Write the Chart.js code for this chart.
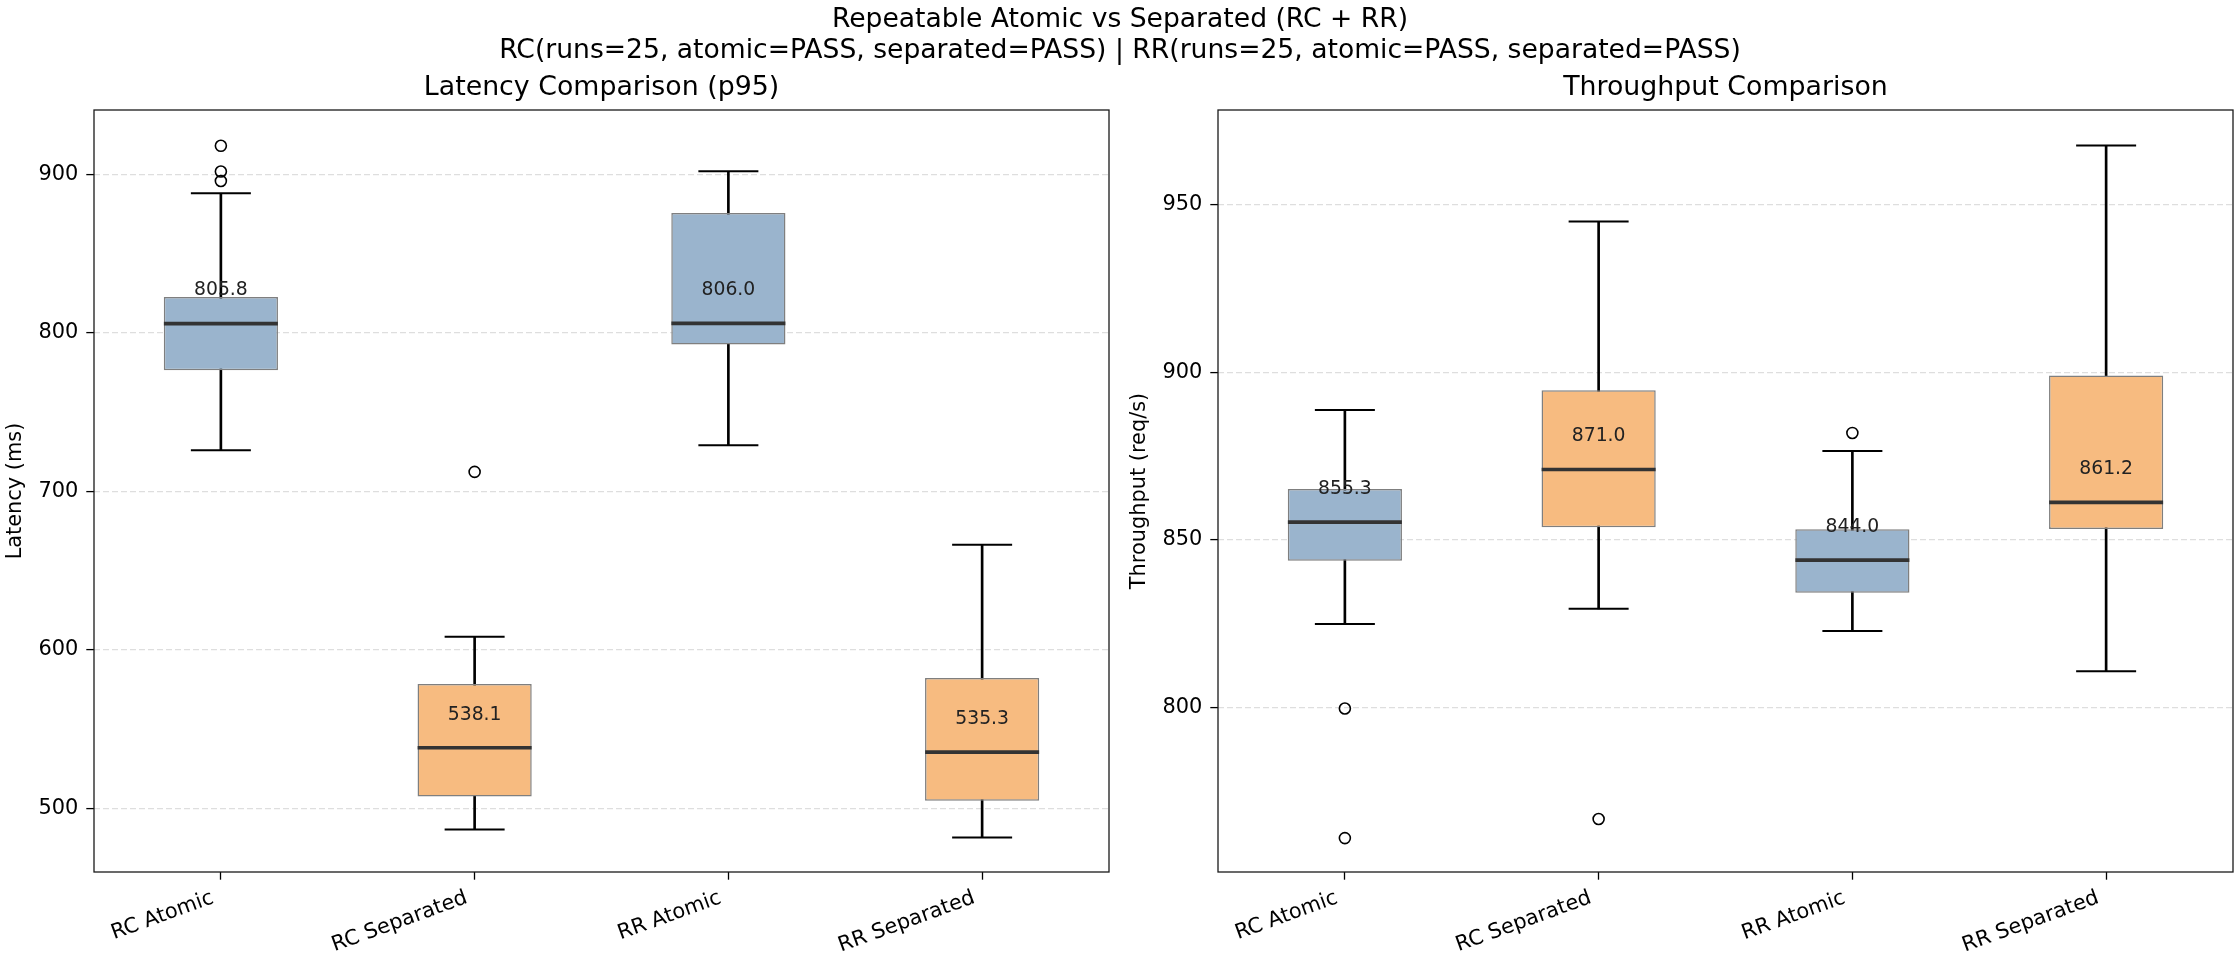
<!DOCTYPE html>
<html>
<head>
<meta charset="utf-8">
<title>Repeatable Atomic vs Separated (RC + RR)</title>
<script src="https://cdn.jsdelivr.net/npm/chart.js@4.4.1/dist/chart.umd.min.js"></script>
<style>
    html, body { margin: 0; padding: 0; background: #fff; }
    #page { position: relative; width: 2240px; height: 960px; overflow: hidden; font-family: "DejaVu Sans", sans-serif; }
    #suptitle { position: absolute; left: 0; top: 3px; width: 2240px; text-align: center; font-size: 26.6px; line-height: 30.7px; color: #000; }
    canvas { position: absolute; top: 0; }
</style>
</head>
<body>
<div id="page">
    <canvas id="latency" width="1120" height="960" style="left:0"></canvas>
    <canvas id="throughput" width="1120" height="960" style="left:1120px"></canvas>
    <div id="suptitle">Repeatable Atomic vs Separated (RC + RR)<br>RC(runs=25, atomic=PASS, separated=PASS) | RR(runs=25, atomic=PASS, separated=PASS)</div>
</div>
<script>
const categories = ["RC Atomic", "RC Separated", "RR Atomic", "RR Separated"];

// latency p95 (ms)
const latencyWhiskerLow = [725.9, 486.5, 729.1, 481.5];
const latencyQ1 = [776.4, 507.4, 792.6, 504.6];
const latencyMedian = [805.8, 538.1, 806.0, 535.3];
const latencyQ3 = [822.6, 578.3, 875.6, 582.2];
const latencyWhiskerHigh = [888.0, 608.2, 901.9, 666.3];
const latencyOutliers = [[918.0, 901.8, 895.8], [712.2], [], []];
const latencyTicks = [500, 600, 700, 800, 900];
const latencyRange = [459.7, 940.6];

// throughput (req/s)
const throughputWhiskerLow = [825.0, 829.5, 822.9, 810.9];
const throughputQ1 = [843.8, 853.8, 834.3, 853.3];
const throughputMedian = [855.3, 871.0, 844.0, 861.2];
const throughputQ3 = [865.2, 894.6, 853.2, 899.0];
const throughputWhiskerHigh = [888.7, 944.9, 876.5, 967.5];
const throughputOutliers = [[799.8, 761.2], [766.9], [881.9], []];
const throughputTicks = [800, 850, 900, 950];
const throughputRange = [751.1, 978.1];

const FONT = "DejaVu Sans";
const boxColors = ["#9ab4cd", "#f7bb80", "#9ab4cd", "#f7bb80"];

Chart.defaults.font.family = FONT;
Chart.defaults.color = "#000";

// frame, panel title and median labels
const panelDecor = {
    id: "panelDecor",
    afterDatasetsDraw: (chart, args, opts) => {
        const { ctx, scales: { x, y } } = chart;
        ctx.save();
        ctx.font = "18.8px '" + FONT + "'";
        ctx.fillStyle = "#222";
        ctx.textAlign = "center";
        ctx.textBaseline = "middle";
        opts.medians.forEach((value, index) => {
            ctx.fillText(value.toFixed(1), x.getPixelForValue(index), y.getPixelForValue(value) - 33);
        });
        ctx.restore();
    },
    afterDraw: (chart, args, opts) => {
        const { ctx, chartArea: area } = chart;
        ctx.save();
        ctx.strokeStyle = "#1a1a1a";
        ctx.lineWidth = 1.3;
        ctx.strokeRect(area.left, area.top, area.right - area.left, area.bottom - area.top);
        ctx.font = "26.8px '" + FONT + "'";
        ctx.fillStyle = "#000";
        ctx.textAlign = "center";
        ctx.textBaseline = "middle";
        ctx.fillText(opts.title, (area.left + area.right) / 2, area.top - 22);
        ctx.restore();
    },
};

const datasets = (low, q1, median, q3, high, outliers) => [
    {
        type: "bar",
        data: categories.map((c, i) => [low[i], high[i]]),
        backgroundColor: "#000",
        borderWidth: 0,
        barThickness: 2,
        grouped: false,
        order: 4,
    },
    {
        type: "bar",
        data: categories.map((c, i) => [q1[i], q3[i]]),
        backgroundColor: boxColors,
        borderColor: "#7f7f7f",
        borderWidth: 1.5,
        borderSkipped: false,
        barPercentage: 0.45,
        categoryPercentage: 1,
        grouped: false,
        order: 3,
    },
    {
        type: "line",
        data: median,
        showLine: false,
        pointStyle: "line",
        pointRadius: 57,
        pointBorderWidth: 3.7,
        pointBorderColor: "#333",
        order: 2,
    },
    {
        type: "line",
        data: low,
        showLine: false,
        pointStyle: "line",
        pointRadius: 30,
        pointBorderWidth: 2,
        pointBorderColor: "#000",
        order: 2,
    },
    {
        type: "line",
        data: high,
        showLine: false,
        pointStyle: "line",
        pointRadius: 30,
        pointBorderWidth: 2,
        pointBorderColor: "#000",
        order: 2,
    },
    {
        type: "line",
        data: categories.flatMap((c, i) => outliers[i].map(v => ({ x: c, y: v }))),
        showLine: false,
        pointStyle: "circle",
        pointRadius: 5.5,
        pointBorderWidth: 1.6,
        pointBorderColor: "#000",
        pointBackgroundColor: "rgba(0,0,0,0)",
        order: 1,
    },
];

const panel = (canvas, { title, label, medians, ticks, range, yWidth, rightPad, labelPad, sets }) => new Chart(canvas, {
    type: "bar",
    data: { labels: categories, datasets: sets },
    options: {
        responsive: false,
        devicePixelRatio: 1,
        animation: false,
        layout: { autoPadding: false, padding: { top: 110, right: rightPad, bottom: 0, left: 0 } },
        plugins: {
            legend: { display: false },
            tooltip: { enabled: false },
            panelDecor: { title, medians },
        },
        scales: {
            x: {
                offset: true,
                afterFit: (scale) => {
                    scale.height = 88;
                    scale.paddingLeft = 0;
                    scale.paddingRight = 0;
                },
                grid: { drawOnChartArea: false, drawTicks: true, offset: false, tickLength: 7.7, tickColor: "#000", tickWidth: 1.3, tickBorderDash: [] },
                border: { display: false, dash: [] },
                ticks: { minRotation: 20, maxRotation: 20, padding: 6, labelOffset: -8, font: { size: 20.9 }, color: "#000" },
            },
            y: {
                min: range[0],
                max: range[1],
                afterFit: (scale) => { scale.width = yWidth; },
                afterBuildTicks: (scale) => { scale.ticks = ticks.map(value => ({ value })); },
                grid: { color: "#dedede", lineWidth: 1.2, tickLength: 7.7, tickColor: "#000", tickWidth: 1.3, tickBorderDash: [] },
                border: { display: false, dash: [6, 3] },
                ticks: { padding: 8, font: { size: 20.9 }, color: "#000" },
                title: { display: true, text: label, font: { size: 20.9 }, color: "#000", padding: { top: labelPad, bottom: 0 } },
            },
        },
    },
    plugins: [panelDecor],
});

panel(document.getElementById("latency"), {
    title: "Latency Comparison (p95)",
    label: "Latency (ms)",
    medians: latencyMedian,
    ticks: latencyTicks,
    range: latencyRange,
    yWidth: 94,
    rightPad: 11,
    labelPad: 3,
    sets: datasets(latencyWhiskerLow, latencyQ1, latencyMedian, latencyQ3, latencyWhiskerHigh, latencyOutliers),
});

panel(document.getElementById("throughput"), {
    title: "Throughput Comparison",
    label: "Throughput (req/s)",
    medians: throughputMedian,
    ticks: throughputTicks,
    range: throughputRange,
    yWidth: 98,
    rightPad: 7,
    labelPad: 7.5,
    sets: datasets(throughputWhiskerLow, throughputQ1, throughputMedian, throughputQ3, throughputWhiskerHigh, throughputOutliers),
});
</script>
</body>
</html>
